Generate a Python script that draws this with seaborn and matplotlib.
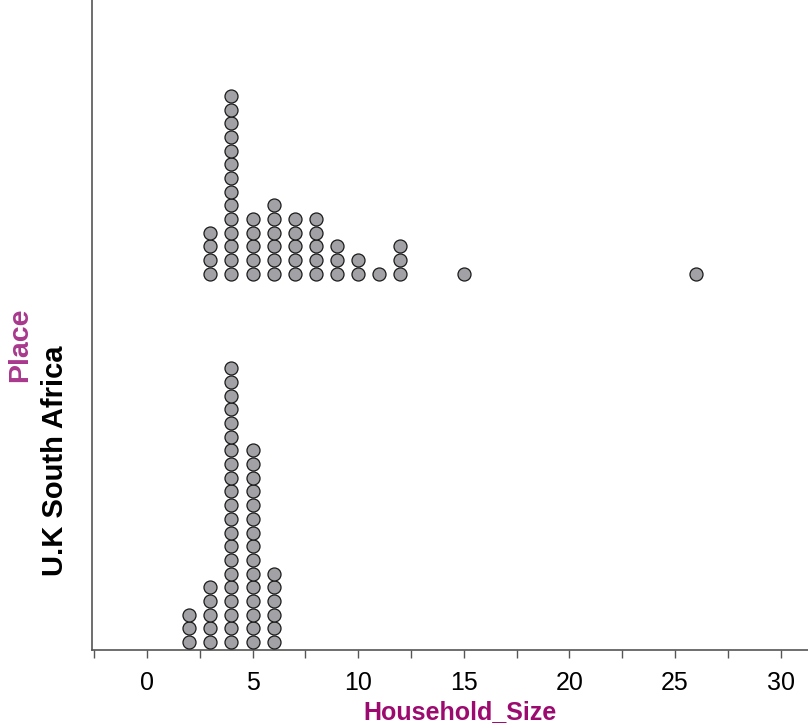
import numpy as np
import pandas as pd
import seaborn as sns
import matplotlib.pyplot as plt
from matplotlib.ticker import MultipleLocator

# household sizes and how many households of each size
sa_sizes = [3, 4, 5, 6, 7, 8, 9, 10, 11, 12, 15, 26]
sa_counts = [4, 14, 5, 6, 5, 5, 3, 2, 1, 3, 1, 1]
uk_sizes = [2, 3, 4, 5, 6]
uk_counts = [3, 5, 21, 15, 6]

places = ["U.K", "South Africa"]
place_base = {"U.K": 0.0, "South Africa": 26.9}  # baseline of each stack row, in dot units

rows = []
for place, sizes, counts in [("South Africa", sa_sizes, sa_counts), ("U.K", uk_sizes, uk_counts)]:
    for s, c in zip(sizes, counts):
        for k in range(c):
            rows.append({"Place": place, "Household_Size": s, "level": k})
df = pd.DataFrame(rows)
df["stack"] = df["Place"].map(place_base) + df["level"]

sns.set_style("white")
plt.rcParams["font.family"] = ["Liberation Sans", "DejaVu Sans"]

fig = plt.figure(figsize=(8.08, 7.28), dpi=100)
ax = fig.add_axes([92 / 808, 78 / 728, 1 - 92 / 808, 1 - 78 / 728])

sns.scatterplot(data=df, x="Household_Size", y="stack", ax=ax,
                color="#a2a2a6", edgecolor="#1a1a1a", linewidth=0.9, s=88, zorder=3)

ax.set_xlim(-2.6, 31.3)
ax.set_ylim(-0.58, 46.9)
ax.xaxis.set_major_locator(MultipleLocator(5))
ax.xaxis.set_minor_locator(MultipleLocator(2.5))
ax.tick_params(axis="x", which="both", bottom=True, length=6, width=1,
               color="#555555", labelcolor="black", labelsize=18, pad=9)
ax.set_yticks([])
for sp in ["top", "right"]:
    ax.spines[sp].set_visible(False)
for sp in ["left", "bottom"]:
    ax.spines[sp].set_color("#555555")
    ax.spines[sp].set_linewidth(1.2)

ax.set_xlabel("Household_Size", fontsize=18, fontweight="bold", color="#9c0a70")
ax.xaxis.set_label_coords((460 - 92) / 716, -50 / 650)
ax.set_ylabel("")

fig.text(20 / 808, 1 - 345 / 728, "Place", rotation=90, ha="center", va="center",
         fontsize=20.5, fontweight="bold", color="#a8388c")
fig.text(55 / 808, 1 - 461 / 728, " ".join(places), rotation=90, ha="center", va="center",
         fontsize=21, fontweight="bold", color="black")

fig.savefig("out.png", dpi=100)
